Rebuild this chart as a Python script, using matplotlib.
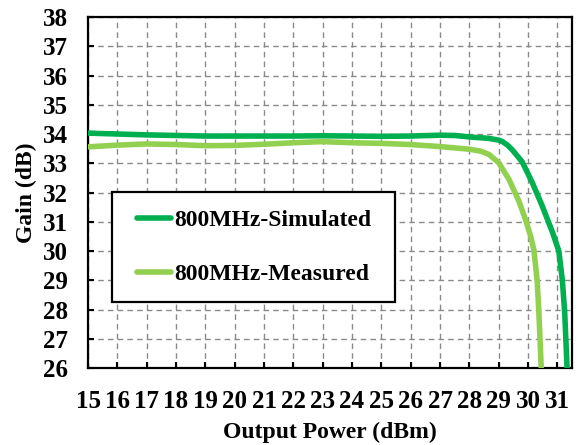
import matplotlib
matplotlib.use("Agg")
import matplotlib.pyplot as plt
from matplotlib.patches import Rectangle

# Data
sim_x = [15, 16, 17, 18, 19, 20, 21, 22, 23, 24, 25, 26, 27, 27.5, 28, 28.67, 29.0, 29.13,
         29.3, 29.47, 29.8, 30.14, 30.48, 30.83, 31.0, 31.05, 31.17, 31.25, 31.33, 31.36]
sim_y = [34.03, 34.0, 33.97, 33.95, 33.93, 33.93, 33.93, 33.93, 33.94, 33.93, 33.92, 33.93, 33.96, 33.95,
         33.9, 33.85, 33.79, 33.74, 33.62, 33.45, 33.05, 32.35, 31.55, 30.65, 30.15, 30.0, 29.0, 27.9, 26.05, 25.5]

meas_x = [15, 16, 17, 18, 19, 20, 21, 22, 23, 24, 25, 26, 27, 28, 28.4, 28.67, 29.0, 29.35,
          29.69, 29.92, 30.09, 30.2, 30.31, 30.37, 30.45, 30.47]
meas_y = [33.56, 33.62, 33.66, 33.64, 33.6, 33.61, 33.65, 33.7, 33.74, 33.7, 33.68, 33.64, 33.57,
          33.48, 33.41, 33.3, 33.02, 32.45, 31.7, 31.06, 30.5, 30.03, 29.0, 27.9, 26.0, 25.5]

labels = ["800MHz-Simulated", "800MHz-Measured"]
colors = ["#00B050", "#92D050"]
x_ticks = list(range(15, 32))
y_ticks = list(range(26, 39))

plt.rcParams['font.family'] = ['Liberation Serif', 'DejaVu Serif']
plt.rcParams['font.weight'] = 'bold'

fig = plt.figure(figsize=(5.84, 4.45), dpi=100)
ax = fig.add_axes([0.1507, 0.173, 0.8288, 0.7888])

ax.plot(sim_x, sim_y, color=colors[0], lw=4.0, label=labels[0], solid_capstyle='round', zorder=3)
ax.plot(meas_x, meas_y, color=colors[1], lw=4.0, label=labels[1], solid_capstyle='round', zorder=3)

ax.set_xlim(15, 31.5)
ax.set_ylim(26, 38)
ax.set_xticks(x_ticks)
ax.set_yticks(y_ticks)
ax.set_xticklabels([str(v) for v in x_ticks], fontsize=18, fontweight='bold')
ax.set_yticklabels([str(v) for v in y_ticks], fontsize=18, fontweight='bold')
ax.tick_params(axis='x', direction='in', length=4.5, width=1.5, pad=15.5, top=False)
ax.tick_params(axis='y', direction='in', length=4.5, width=1.5, pad=14.5, right=False)

ax.grid(True, color='#8a8a8a', linestyle=(0, (4, 3)), linewidth=1.0, zorder=1)
for s in ax.spines.values():
    s.set_linewidth(1.6)
    s.set_color('black')

ax.set_xlabel("Output Power (dBm)", fontsize=17, fontweight='bold', labelpad=7)
ax.set_ylabel("Gain (dB)", fontsize=17, fontweight='bold', labelpad=4)

# legend frame (drawn separately to get the wide side padding)
frame = Rectangle((0.0496, 0.188), 0.585, 0.313, transform=ax.transAxes,
                  facecolor='white', edgecolor='black', linewidth=1.6, zorder=4)
ax.add_patch(frame)

leg = ax.legend(loc='upper left', bbox_to_anchor=(0.101, 0.452), fontsize=17,
                frameon=False, handlelength=1.45, handletextpad=0.12,
                labelspacing=1.4, borderpad=0.0, borderaxespad=0)
leg.set_zorder(5)
for t in leg.get_texts():
    t.set_fontweight('bold')

fig.savefig("out.png", dpi=100)
